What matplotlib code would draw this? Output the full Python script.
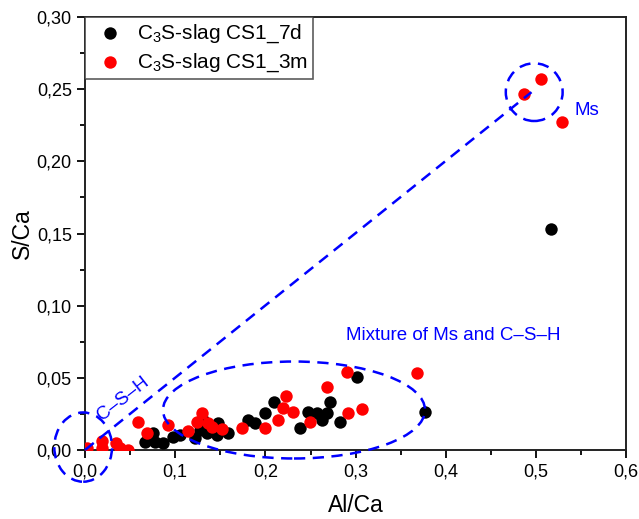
import matplotlib
matplotlib.use("Agg")
import matplotlib.pyplot as plt
from matplotlib.patches import Ellipse
from matplotlib.ticker import MultipleLocator, FuncFormatter

plt.rcParams["font.family"] = ["Liberation Sans", "DejaVu Sans"]
plt.rcParams["mathtext.fontset"] = "custom"
plt.rcParams["mathtext.rm"] = "Liberation Sans"
plt.rcParams["mathtext.it"] = "Liberation Sans"

# Al/Ca and S/Ca atomic ratios
al_7d = [0.0665, 0.0754, 0.0776, 0.0865, 0.0976, 0.1053, 0.1220, 0.1275, 0.1308,
         0.1353, 0.1463, 0.1475, 0.1585, 0.1807, 0.1885, 0.1996, 0.2090, 0.2380,
         0.2470, 0.2570, 0.2630, 0.2680, 0.2716, 0.2827, 0.3016, 0.3770, 0.5166]
s_7d = [0.0055, 0.0118, 0.0055, 0.0048, 0.0090, 0.0104, 0.0083, 0.0139, 0.0208,
        0.0118, 0.0104, 0.0187, 0.0118, 0.0208, 0.0187, 0.0256, 0.0332, 0.0152,
        0.0263, 0.0256, 0.0208, 0.0256, 0.0332, 0.0194, 0.0506, 0.0263, 0.1530]

al_3m = [0.0020, 0.0188, 0.0188, 0.0344, 0.0388, 0.0477, 0.0588, 0.0687, 0.0920,
         0.1142, 0.1242, 0.1297, 0.1364, 0.1408, 0.1519, 0.1740, 0.1996, 0.2140,
         0.2195, 0.2230, 0.2306, 0.2490, 0.2680, 0.2905, 0.2916, 0.3070, 0.3680,
         0.4867, 0.5055, 0.5288]
s_3m = [0.0014, 0.0062, 0.0014, 0.0048, 0.0014, 0.0000, 0.0194, 0.0118, 0.0173,
        0.0132, 0.0194, 0.0256, 0.0187, 0.0159, 0.0145, 0.0152, 0.0152, 0.0208,
        0.0290, 0.0374, 0.0263, 0.0194, 0.0436, 0.0540, 0.0256, 0.0284, 0.0533,
        0.2465, 0.2570, 0.2270]

labels = ["C$_3$S-slag CS1_7d", "C$_3$S-slag CS1_3m"]

fig = plt.figure(figsize=(6.39, 5.19), dpi=100)
ax = fig.add_axes([0.133, 0.133, 0.847, 0.834])

ax.scatter(al_7d, s_7d, s=80, color="black", label=labels[0], zorder=3, linewidths=0)
ax.scatter(al_3m, s_3m, s=80, color="red", label=labels[1], zorder=3, linewidths=0)

ax.set_xlim(0, 0.6)
ax.set_ylim(0, 0.30)

blue = (0, 0, 1)
dash = (0, (4.5, 3))

# phase regions
for (cx, cy, w, h) in [(0.498, 0.248, 0.063, 0.040),
                       (0.2317, 0.0277, 0.2905, 0.0672),
                       (-0.002, 0.002, 0.064, 0.048)]:
    ax.add_patch(Ellipse((cx, cy), w, h, fill=False, edgecolor=blue, lw=1.8,
                         linestyle=dash, clip_on=False, zorder=4))
ax.plot([0.0, 0.495], [0.0, 0.248], color=blue, lw=1.8, linestyle=dash,
        clip_on=False, zorder=4)

ax.text(0.543, 0.235, "Ms", color=blue, fontsize=13.5, ha="left", va="center")
ax.text(0.408, 0.0796, "Mixture of Ms and C\u2013S\u2013H", color=blue,
        fontsize=13.5, ha="center", va="center")
ax.text(0.042, 0.0355, "C\u2013S\u2013H", color=blue, fontsize=13.5,
        ha="center", va="center", rotation=38)

comma = FuncFormatter(lambda v, p: f"{v:.1f}".replace(".", ","))
comma2 = FuncFormatter(lambda v, p: f"{v:.2f}".replace(".", ","))
ax.xaxis.set_major_locator(MultipleLocator(0.1))
ax.xaxis.set_minor_locator(MultipleLocator(0.05))
ax.yaxis.set_major_locator(MultipleLocator(0.05))
ax.yaxis.set_minor_locator(MultipleLocator(0.025))
ax.xaxis.set_major_formatter(comma)
ax.yaxis.set_major_formatter(comma2)
ax.tick_params(which="major", direction="out", length=6, width=1.3,
               labelsize=13, top=False, right=False)
ax.tick_params(which="minor", direction="out", length=3.5, width=1.3,
               top=False, right=False)
for sp in ax.spines.values():
    sp.set_linewidth(1.4)
    sp.set_color("#222222")

ax.set_xlabel("Al/Ca", fontsize=16.5, labelpad=10)
ax.set_ylabel("S/Ca", fontsize=16.5, labelpad=2)

leg = ax.legend(loc="upper left", fontsize=15, frameon=True, fancybox=False,
                borderaxespad=0, handletextpad=0.35, borderpad=0.25,
                labelspacing=0.3, handlelength=1.9, scatterpoints=1)
leg.get_frame().set_edgecolor("#333333")
leg.get_frame().set_linewidth(1.2)

fig.savefig("out.png", dpi=100)
